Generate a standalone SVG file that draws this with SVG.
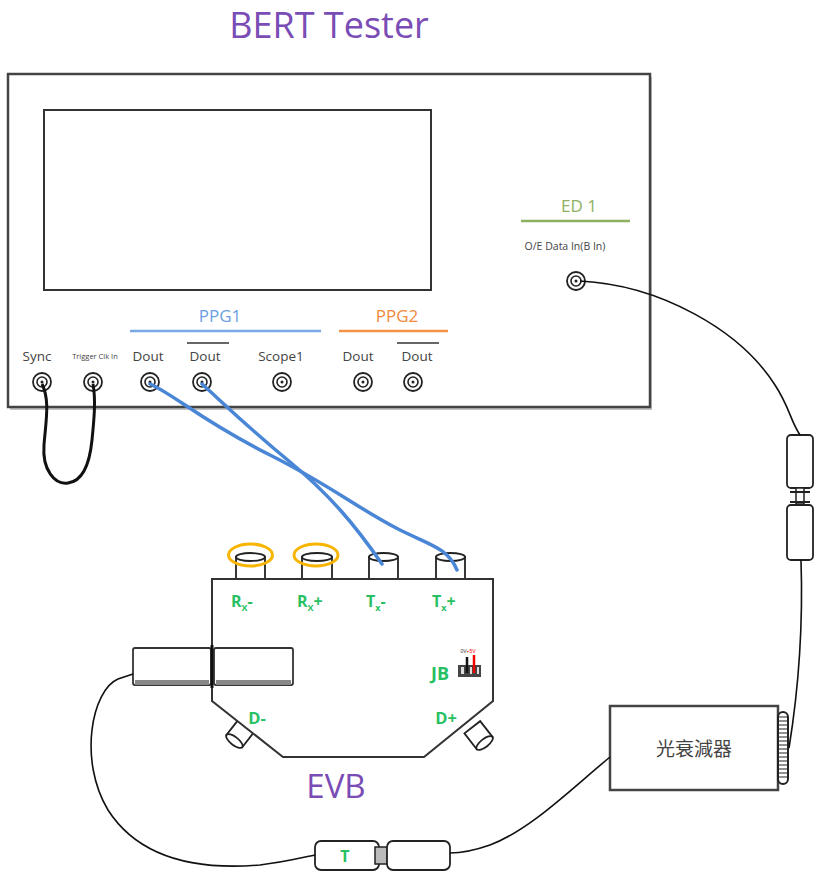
<svg xmlns="http://www.w3.org/2000/svg" width="817" height="881" viewBox="0 0 817 881">
  <style>
    .lbl{font-family:"Open Sans","Liberation Sans",sans-serif;fill:#444}
    .title{font-family:"Open Sans","Liberation Sans",sans-serif;fill:#7a4cb5}
    .grn{font-family:"Open Sans","Liberation Sans",sans-serif;fill:#27c063;font-weight:bold}
    .cable{fill:none;stroke:#111;stroke-width:1.6}
    .loop{fill:none;stroke:#111;stroke-width:3}
    .blue{fill:none;stroke:#4a86d6;stroke-width:3.5;stroke-linecap:round}
    .cyl{fill:#fff;stroke:#222;stroke-width:1.8}
  </style>
  <defs>
    <g id="port">
      <circle r="9" fill="#fff" stroke="#222" stroke-width="1.8"/>
      <circle r="5" fill="none" stroke="#222" stroke-width="1.6"/>
      <circle r="1.5" fill="#222"/>
    </g>
  </defs>
  <rect width="817" height="881" fill="#fff"/>

  <!-- BERT tester chassis -->
  <g id="bert">
    <text class="title" x="329" y="38" font-size="36" text-anchor="middle">BERT Tester</text>
    <rect x="10" y="77" width="642" height="333" fill="#888" opacity="0.5"/>
    <rect x="8" y="74" width="642" height="333" fill="#fff" stroke="#444" stroke-width="2.5"/>
    <rect x="44" y="110" width="387" height="180" fill="#fff" stroke="#333" stroke-width="2"/>
  </g>

  <g id="ed1">
    <text x="579" y="212" font-family="Open Sans, Liberation Sans, sans-serif" font-size="17" fill="#8db061" text-anchor="middle">ED 1</text>
    <line x1="521" y1="221" x2="630" y2="221" stroke="#8db061" stroke-width="2.5"/>
    <text class="lbl" x="565" y="250" font-size="10.5" text-anchor="middle">O/E Data In(B In)</text>
    <use href="#port" x="576" y="281"/>
  </g>

  <g id="ppg1">
    <text x="220" y="322" font-family="Open Sans, Liberation Sans, sans-serif" font-size="17" fill="#6c9fe2" text-anchor="middle">PPG1</text>
    <line x1="130" y1="331" x2="321" y2="331" stroke="#7aa7e6" stroke-width="2.5"/>
  </g>

  <g id="ppg2">
    <text x="397" y="322" font-family="Open Sans, Liberation Sans, sans-serif" font-size="17" fill="#f08a3c" text-anchor="middle">PPG2</text>
    <line x1="339" y1="331" x2="448" y2="331" stroke="#f29448" stroke-width="2.5"/>
  </g>

  <!-- front panel ports -->
  <g id="ports">
    <text class="lbl" x="37" y="361" font-size="13.5" text-anchor="middle">Sync</text>
    <text class="lbl" x="95" y="359" font-size="7.5" text-anchor="middle">Trigger Clk In</text>
    <text class="lbl" x="148" y="361" font-size="13.5" text-anchor="middle">Dout</text>
    <text class="lbl" x="205" y="361" font-size="13.5" text-anchor="middle">Dout</text>
    <line x1="187" y1="343" x2="229" y2="343" stroke="#333" stroke-width="1.6"/>
    <text class="lbl" x="281" y="361" font-size="13.5" text-anchor="middle">Scope1</text>
    <text class="lbl" x="358" y="361" font-size="13.5" text-anchor="middle">Dout</text>
    <text class="lbl" x="417" y="361" font-size="13.5" text-anchor="middle">Dout</text>
    <line x1="397" y1="343" x2="439" y2="343" stroke="#333" stroke-width="1.6"/>
    <use href="#port" x="42" y="382"/>
    <use href="#port" x="93" y="382"/>
    <use href="#port" x="150" y="382"/>
    <use href="#port" x="202" y="382"/>
    <use href="#port" x="282" y="382"/>
    <use href="#port" x="363" y="382"/>
    <use href="#port" x="413" y="382"/>
  </g>

  <!-- EVB board -->
  <g id="evb">
    <!-- top SMA jacks -->
    <g>
      <rect class="cyl" x="236" y="557" width="29" height="22"/>
      <ellipse class="cyl" cx="250.5" cy="557" rx="14.5" ry="4"/>
      <ellipse cx="250.5" cy="555" rx="22" ry="11" fill="none" stroke="#f7b500" stroke-width="3"/>
      <rect class="cyl" x="302" y="557" width="30" height="22"/>
      <ellipse class="cyl" cx="317" cy="557" rx="15" ry="4"/>
      <ellipse cx="316" cy="555" rx="22" ry="11" fill="none" stroke="#f7b500" stroke-width="3"/>
      <rect class="cyl" x="369" y="557" width="29" height="22"/>
      <ellipse class="cyl" cx="383.5" cy="557" rx="14.5" ry="4"/>
      <rect class="cyl" x="436" y="557" width="29" height="22"/>
      <ellipse class="cyl" cx="450.5" cy="557" rx="14.5" ry="4"/>
    </g>
    <!-- side SMA stubs -->
    <g transform="translate(243,730) rotate(-52)">
      <rect class="cyl" x="-14" y="-10" width="20" height="20"/>
      <ellipse class="cyl" cx="-14" cy="0" rx="4" ry="10"/>
    </g>
    <g transform="translate(476,732) rotate(52)">
      <rect class="cyl" x="-6" y="-10" width="20" height="20"/>
      <ellipse class="cyl" cx="14" cy="0" rx="4" ry="10"/>
    </g>
    <polygon points="212,579 493,579 493,701 424,757 283,757 212,701" fill="#fff" stroke="#333" stroke-width="2"/>
    <text class="grn" x="231" y="607" font-size="16">R<tspan font-size="9" dy="4">X</tspan><tspan dy="-4">-</tspan></text>
    <text class="grn" x="297" y="607" font-size="16">R<tspan font-size="9" dy="4">X</tspan><tspan dy="-4">+</tspan></text>
    <text class="grn" x="366" y="607" font-size="16">T<tspan font-size="9" dy="4">x</tspan><tspan dy="-4">-</tspan></text>
    <text class="grn" x="432" y="607" font-size="16">T<tspan font-size="9" dy="4">x</tspan><tspan dy="-4">+</tspan></text>
    <text class="grn" x="440" y="680" font-size="18" text-anchor="middle">JB</text>
    <!-- jumper block -->
    <g>
      <text x="468" y="653" font-family="Liberation Sans, sans-serif" font-size="5" fill="#333" text-anchor="middle">0V<tspan fill="#e00">+5V</tspan></text>
      <rect x="458" y="665" width="23" height="12" fill="#444"/>
      <line x1="467" y1="657" x2="467" y2="673" stroke="#111" stroke-width="2.5"/>
      <line x1="474" y1="655" x2="474" y2="673" stroke="#e00" stroke-width="2.5"/>
      <rect x="461" y="667" width="3" height="7" fill="#ddd"/>
      <rect x="470" y="667" width="2" height="7" fill="#ddd"/>
      <rect x="477" y="667" width="2" height="7" fill="#ddd"/>
    </g>
    <text class="grn" x="257" y="724" font-size="16.5" text-anchor="middle">D-</text>
    <text class="grn" x="446" y="724" font-size="16.5" text-anchor="middle">D+</text>
    <text class="title" x="336" y="798" font-size="33" text-anchor="middle">EVB</text>
  </g>

  <!-- horizontal plug at EVB left edge -->
  <g id="plug-left">
    <rect x="133" y="648" width="78" height="37" rx="2" fill="#fff" stroke="#333" stroke-width="1.8"/>
    <rect x="135" y="680" width="74" height="5" fill="#888"/>
    <rect x="214" y="648" width="79" height="37" rx="2" fill="#fff" stroke="#333" stroke-width="1.8"/>
    <rect x="216" y="680" width="75" height="5" fill="#888"/>
    <line x1="212" y1="645" x2="212" y2="688" stroke="#111" stroke-width="3"/>
  </g>

  <!-- T connector pair -->
  <g id="t-conn">
    <rect x="315" y="841" width="64" height="29" rx="6" fill="#fff" stroke="#222" stroke-width="1.8"/>
    <text class="grn" x="345" y="862" font-size="16" text-anchor="middle">T</text>
    <rect x="375" y="847" width="14" height="17" fill="#bbb" stroke="#222" stroke-width="1.5"/>
    <rect x="387" y="841" width="63" height="29" rx="6" fill="#fff" stroke="#222" stroke-width="1.8"/>
  </g>

  <!-- optical attenuator -->
  <g id="attenuator">
    <rect x="610" y="706" width="168" height="84" fill="#fff" stroke="#444" stroke-width="2.5"/>
    <text x="694" y="756" font-family="Noto Sans CJK TC, Noto Sans CJK SC, sans-serif" font-size="19" fill="#444" text-anchor="middle">光衰減器</text>
    <rect x="778" y="712" width="10" height="72" rx="5" fill="#fff" stroke="#222" stroke-width="2"/>
    <path d="M779,717 H787 M779,721 H787 M779,725 H787 M779,729 H787 M779,733 H787 M779,737 H787 M779,741 H787 M779,745 H787 M779,749 H787 M779,753 H787 M779,757 H787 M779,761 H787 M779,765 H787 M779,769 H787 M779,773 H787 M779,777 H787" stroke="#222" stroke-width="1.2"/>
  </g>

  <!-- inline fibre connector pair -->
  <g id="fiber-conn">
    <rect x="787" y="435" width="26" height="53" rx="4" fill="#fff" stroke="#222" stroke-width="1.8"/>
    <rect x="796" y="488" width="8" height="16" fill="#fff" stroke="#222" stroke-width="1.5"/>
    <line x1="790" y1="492" x2="810" y2="492" stroke="#222" stroke-width="2"/>
    <line x1="790" y1="502" x2="810" y2="502" stroke="#222" stroke-width="2"/>
    <rect x="787" y="505" width="26" height="55" rx="4" fill="#fff" stroke="#222" stroke-width="1.8"/>
  </g>

  <!-- cables -->
  <g id="connectors">
    <path class="loop" d="M42,384 C50,400 46,420 44,445 C42,470 55,485 68,483 C84,481 90,460 92,440 C94,420 96,400 93,384"/>
    <path class="blue" d="M150,384 C175,395 200,420 270,455 C330,485 360,510 400,530 C430,545 448,548 457,570"/>
    <path class="blue" d="M202,384 C220,400 245,425 290,462 C330,495 355,525 382,564"/>
    <path class="cable" d="M580,281 C660,285 740,330 775,385 C790,408 790,420 800,435"/>
    <path class="cable" d="M801,560 C803,620 800,680 789,748"/>
    <path class="cable" d="M610,757 C570,790 530,830 490,845 C470,852 460,853 450,853"/>
    <path class="cable" d="M133,674 L118,679 C92,690 78,760 108,810 C140,860 200,870 260,865 C285,862 300,858 315,855"/>
  </g>
</svg>
